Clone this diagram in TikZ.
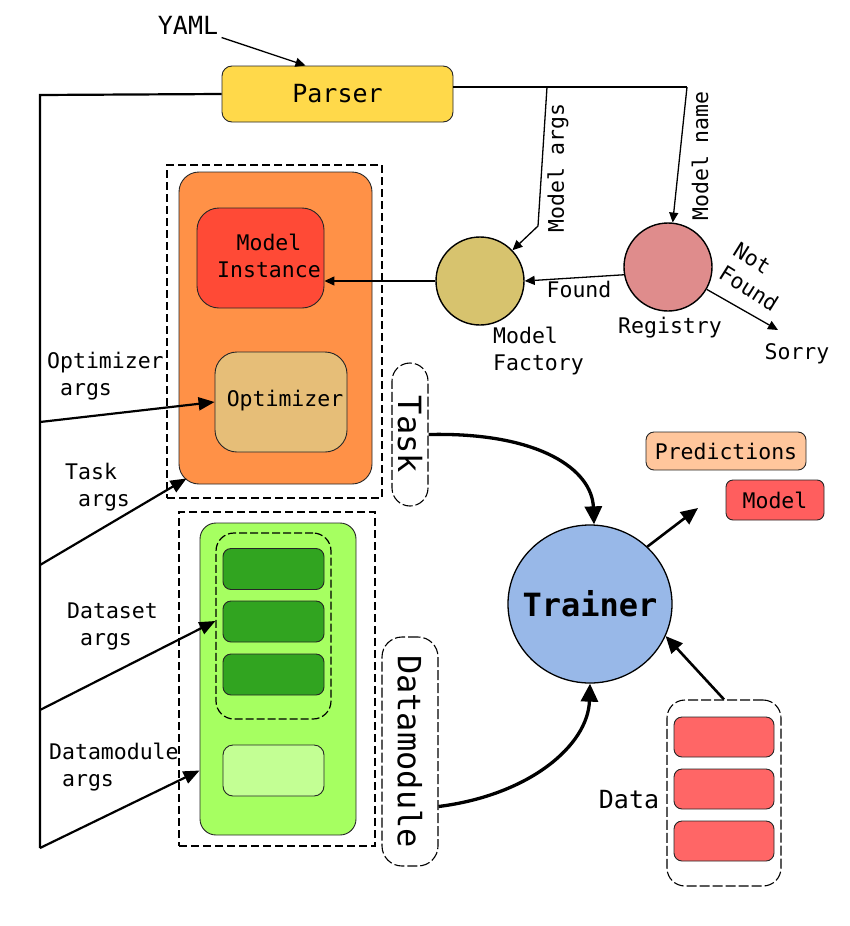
\documentclass[tikz,border=0pt]{standalone}
\usepackage{fontspec}
\setmainfont{DejaVu Sans Mono}
\usetikzlibrary{arrows.meta, shapes.geometric, calc}
\definecolor{parseryellow}{HTML}{FFD94A}
\definecolor{taskorange}{HTML}{FF9147}
\definecolor{modelred}{HTML}{FF4A36}
\definecolor{optimtan}{HTML}{E6BE78}
\definecolor{factorytan}{HTML}{D7C36E}
\definecolor{registrypink}{HTML}{DF8C8C}
\definecolor{dmgreen}{HTML}{A6FF61}
\definecolor{dsgreen}{HTML}{31A420}
\definecolor{cfggreen}{HTML}{C3FF94}
\definecolor{trainerblue}{HTML}{98B8E8}
\definecolor{predpeach}{HTML}{FFC69C}
\definecolor{outred}{HTML}{FF5E5E}
\definecolor{datared}{HTML}{FF6666}
\tikzstyle{lbl}=[font=\fontsize{21.5}{27}\selectfont, inner sep=0]
\tikzstyle{big}=[font=\fontsize{25}{30}\selectfont]
\tikzstyle{huge}=[font=\fontsize{32}{36}\selectfont]
\tikzstyle{block}=[rounded corners=10pt, draw=black!85, line width=0.9pt, inner sep=0]
\tikzstyle{bar}=[block, rounded corners=8pt, minimum width=101pt, minimum height=41pt]
\tikzstyle{frame}=[draw, line width=1.6pt, dash pattern=on 8pt off 4pt, inner sep=0]
\tikzstyle{tag}=[draw, rounded corners=18pt, line width=1.1pt, dash pattern=on 10pt off 3pt, inner sep=0]
\tikzstyle{bubble}=[circle, draw, line width=1.4pt, minimum size=88pt, inner sep=0]
\tikzstyle{wire}=[line width=1.3pt]
\tikzstyle{link}=[line width=1.3pt, -{Triangle[length=10pt, width=9pt]}]
\tikzstyle{bus}=[line width=2.2pt]
\tikzstyle{arg}=[line width=2.2pt, -{Triangle[length=16pt, width=13pt]}]
\tikzstyle{emit}=[line width=2.6pt, -{Triangle[length=17pt, width=15pt]}]
\tikzstyle{feed}=[line width=3.3pt, -{Triangle[length=18pt, width=17pt]}]

\begin{document}
\begin{tikzpicture}[x=1pt, y=-1pt]
\useasboundingbox (0, 0) rectangle (850, 926);

\node [big, anchor=base] (yaml) at (188, 34) {YAML};
\node [block, big, fill=parseryellow, minimum width=231pt, minimum height=56pt] (parser) at (337.5, 94) {Parser};

\node [frame, minimum width=215pt, minimum height=333pt] (taskframe) at (274.5, 331.5) {};
\node [block, fill=taskorange, rounded corners=20pt, minimum width=193pt, minimum height=312pt] (taskbody) at (275.5, 328) {};
\node [block, fill=modelred, rounded corners=22pt, minimum width=127pt, minimum height=100pt] (instance) at (260.5, 258) {};
\node [lbl, align=center] (instancetxt) at (269, 256) {Model\\Instance};
\node [block, fill=optimtan, rounded corners=22pt, minimum width=132pt, minimum height=100pt] (optim) at (281, 402) {};
\node [lbl] (optimtxt) at (285, 401) {Optimizer};

\node [tag, minimum width=36pt, minimum height=143pt] (task) at (410, 434.5) {};
\node [huge, rotate=-90] (tasktxt) at (task) {Task};

\node [frame, minimum width=196pt, minimum height=334pt] (dmframe) at (277, 679) {};
\node [block, fill=dmgreen, rounded corners=16pt, minimum width=156pt, minimum height=312pt] (dmbody) at (278, 679) {};
\node [tag, line width=1.2pt, dash pattern=on 8pt off 3pt, minimum width=115pt, minimum height=186pt] (dsset) at (273.5, 626) {};
\node [bar, fill=dsgreen] (ds1) at (273.5, 569) {};
\node [bar, fill=dsgreen] (ds2) at (273.5, 621.5) {};
\node [bar, fill=dsgreen] (ds3) at (273.5, 674.5) {};
\node [block, fill=cfggreen, minimum width=101pt, minimum height=51pt] (dmcfg) at (273.5, 770.5) {};

\node [tag, rounded corners=20pt, minimum width=56pt, minimum height=229pt] (dm) at (410, 751.5) {};
\node [huge, rotate=-90] (dmtxt) at (dm) {Datamodule};

\node [bubble, fill=factorytan] (factory) at (480, 281) {};
\node [bubble, fill=registrypink] (registry) at (668, 267) {};
\node [ellipse, draw, line width=1.3pt, fill=trainerblue, minimum width=164pt, minimum height=158pt, inner sep=0] (trainer) at (590, 604) {};
\node [font=\bfseries\fontsize{32}{36}\selectfont] (trainertxt) at (trainer) {Trainer};

\node [block, lbl, fill=predpeach, rounded corners=8pt, minimum width=160pt, minimum height=38pt] (preds) at (726, 451) {Predictions};
\node [block, lbl, fill=outred, rounded corners=7pt, minimum width=98pt, minimum height=40pt] (model) at (775, 500) {Model};

\node [tag, minimum width=114pt, minimum height=186pt] (data) at (724, 793) {};
\node [bar, fill=datared, minimum width=100pt, minimum height=40pt] (data1) at (724, 737) {};
\node [bar, fill=datared, minimum width=100pt, minimum height=40pt] (data2) at (724, 789) {};
\node [bar, fill=datared, minimum width=100pt, minimum height=40pt] (data3) at (724, 841) {};
\node [big] (datatxt) at (629, 800) {Data};

\node [lbl, rotate=90] (argslbl) at (558, 168) {Model args};
\node [lbl, rotate=90] (namelbl) at (700, 156) {Model name};
\node [lbl, anchor=base] (found) at (579, 297) {Found};
\node [lbl, align=left, anchor=west] (faclbl) at (493, 351) {Model\\Factory};
\node [lbl, anchor=base] (reglbl) at (670, 333) {Registry};
\node [lbl, align=left, rotate=-32] (nflbl) at (756, 277) {Not\\Found};
\node [lbl, anchor=base] (sorry) at (797, 359) {Sorry};

\node [lbl, align=left, anchor=west] (optargs) at (47, 376) {Optimizer\\~args};
\node [lbl, align=left, anchor=west] (taskargs) at (65, 487) {Task\\~args};
\node [lbl, align=left, anchor=west] (dsargs) at (67, 626) {Dataset\\~args};
\node [lbl, align=left, anchor=west] (dmargs) at (49, 767) {Datamodule\\~args};

\coordinate (bustop) at (40, 95);
\coordinate (optarg) at (40, 422);
\coordinate (taskarg) at (40, 565);
\coordinate (dsarg) at (40, 710);
\coordinate (dmarg) at (40, 848);
\coordinate (argsplit) at (547, 87);
\coordinate (argbend) at (538, 226);
\coordinate (namesplit) at (687, 87);
\coordinate (nfend) at (778, 330);
\coordinate (outtip) at (698, 508);

\draw [link] (yaml.south east) -- ([xshift=-32pt]parser.north);

\draw [bus] (parser.west) -- (bustop) -- (dmarg);
\draw [arg] (optarg) -- (optim.west);
\draw [arg] (taskarg) -- ([xshift=8pt, yshift=6pt]taskbody.south west);
\draw [arg] (dsarg) -- ([yshift=5pt]dsset.west);
\draw [arg] (dmarg) -- (dmbody.west |- dmcfg);

\draw [wire] ([yshift=7pt]parser.east) -- (namesplit);
\draw [link] (argsplit) -- (argbend) -- (factory);
\draw [link] (namesplit) -- (registry);
\draw [link] (registry.190) -- (factory.east);
\draw [link] (factory.west) -- (factory.west -| instance.east);
\draw [link] (registry.-30) -- (nfend);

\draw [feed] (task.east) .. controls (540, 432) and (592, 470) .. ([xshift=4pt]trainer.north);
\draw [feed] ([yshift=-55pt]dm.east) .. controls (530, 795) and (588, 745) .. (trainer.south);
\draw [emit] (trainer.45) -- (outtip);
\draw [emit] (data.north) -- (trainer.-23);

\end{tikzpicture}
\end{document}
